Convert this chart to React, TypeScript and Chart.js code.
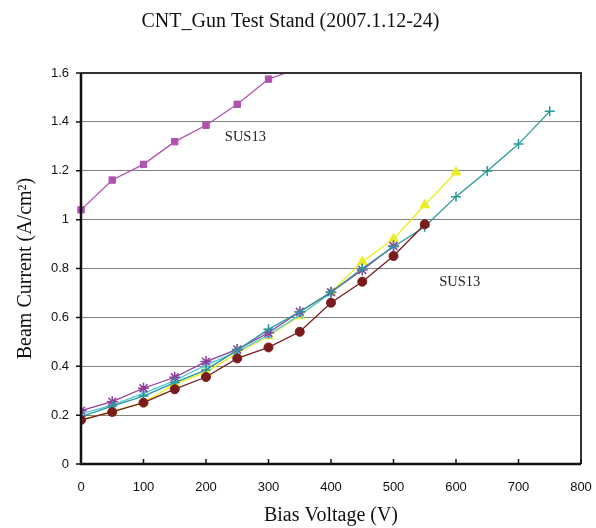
import React, { useEffect, useRef } from "react";
import { Chart, registerables } from "chart.js";

Chart.register(...registerables);

// ---- data ----
const chartTitle = "CNT_Gun Test Stand (2007.1.12-24)";
const xAxisTitle = "Bias Voltage (V)";
const yAxisTitle = "Beam Current (A/cm²)";

const voltages = [0, 50, 100, 150, 200, 250, 300, 350, 400, 450, 500, 550, 600, 650, 700, 750];

const sus13Upper = [1.04, 1.162, 1.226, 1.319, 1.386, 1.472, 1.575, 1.62];
const seriesCircle = [0.18, 0.213, 0.251, 0.306, 0.356, 0.432, 0.477, 0.541, 0.66, 0.746, 0.851, 0.981];
const seriesTriangle = [0.18, 0.214, 0.251, 0.327, 0.376, 0.453, 0.524, 0.606, 0.703, 0.828, 0.921, 1.06, 1.194];
const seriesPlus = [0.194, 0.237, 0.278, 0.333, 0.385, 0.466, 0.551, 0.623, 0.703, 0.8, 0.889, 0.971, 1.094, 1.199, 1.309, 1.443];
const seriesStar = [0.218, 0.255, 0.31, 0.355, 0.419, 0.469, 0.537, 0.623, 0.703, 0.794, 0.892];
const seriesCross = [0.205, 0.241, 0.289, 0.341, 0.405, 0.46, 0.528, 0.61, 0.7];

const xTickValues = [0, 100, 200, 300, 400, 500, 600, 700, 800];
const yTickValues = [0, 0.2, 0.4, 0.6, 0.8, 1, 1.2, 1.4, 1.6];

const noteTexts = ["SUS13", "SUS13"];
const noteX = [263, 606];
const noteY = [1.336, 0.743];

const toPoints = (ys: number[]) => ys.map((y, i) => ({ x: voltages[i], y }));

const SERIF = "'Liberation Serif', 'Times New Roman', serif";
const SANS = "'Liberation Sans', Arial, sans-serif";

const framePlugin = {
  id: "frame",
  afterDatasetsDraw(chart: any) {
    const { ctx, chartArea, scales } = chart;
    const { left, right, top, bottom } = chartArea;
    ctx.save();
    // notes
    ctx.fillStyle = "#222";
    ctx.font = `14.5px ${SERIF}`;
    ctx.textAlign = "center";
    ctx.textBaseline = "middle";
    noteTexts.forEach((t, i) => {
      ctx.fillText(t, scales.x.getPixelForValue(noteX[i]), scales.y.getPixelForValue(noteY[i]));
    });
    // top & right border
    ctx.strokeStyle = "#333";
    ctx.lineWidth = 2;
    ctx.beginPath();
    ctx.moveTo(left, top);
    ctx.lineTo(right, top);
    ctx.lineTo(right, bottom);
    ctx.stroke();
    // left and bottom axes
    ctx.strokeStyle = "#111";
    ctx.lineWidth = 2.5;
    ctx.beginPath();
    ctx.moveTo(left, top);
    ctx.lineTo(left, bottom);
    ctx.lineTo(right, bottom);
    ctx.stroke();
    // ticks
    ctx.lineWidth = 1.5;
    ctx.beginPath();
    xTickValues.forEach((v) => {
      const px = scales.x.getPixelForValue(v);
      ctx.moveTo(px, bottom);
      ctx.lineTo(px, bottom - 5);
    });
    yTickValues.forEach((v) => {
      const py = scales.y.getPixelForValue(v);
      ctx.moveTo(left - 5, py);
      ctx.lineTo(left, py);
    });
    ctx.stroke();
    ctx.restore();
  },
};

const lineDs = (label: string, ys: number[], color: string, style: string, radius: number, extra: any = {}) => ({
  label,
  data: toPoints(ys),
  borderColor: color,
  backgroundColor: color,
  borderWidth: 1.3,
  pointStyle: style,
  pointRadius: radius,
  pointBorderColor: color,
  pointBackgroundColor: color,
  pointBorderWidth: style === "cross" || style === "crossRot" || style === "star" ? 1.5 : 1,
  tension: 0,
  ...extra,
});

export default function App() {
  const canvasRef = useRef<HTMLCanvasElement>(null);

  useEffect(() => {
    if (!canvasRef.current) return;
    const chart = new Chart(canvasRef.current, {
      type: "line",
      data: {
        datasets: [
          lineDs("circle", seriesCircle, "#7b1c1c", "circle", 4.5),
          lineDs("plus", seriesPlus, "#2a9898", "cross", 5),
          lineDs("star", seriesStar, "#8e3c9e", "star", 5.5),
          lineDs("cross", seriesCross, "#4cc8dc", "crossRot", 4.5),
          lineDs("triangle", seriesTriangle, "#ecec22", "triangle", 5.5),
          lineDs("SUS13", sus13Upper, "#b052b0", "rect", 4.5, {
            clip: { left: 10, right: 10, bottom: 10, top: 0 },
          }),
        ],
      },
      options: {
        responsive: false,
        animation: false,
        layout: { padding: { left: 0, right: 15, top: 0, bottom: 0 } },
        plugins: {
          legend: { display: false },
          tooltip: { enabled: false },
          title: {
            display: true,
            text: chartTitle,
            color: "#111",
            font: { family: SERIF, size: 20, weight: "normal" },
            padding: { top: 10, bottom: 39 },
          },
        },
        scales: {
          x: {
            type: "linear",
            min: 0,
            max: 800,
            afterFit: (s: any) => {
              s.height = 64;
              s.paddingLeft = 0;
              s.paddingRight = 0;
            },
            afterBuildTicks: (s: any) => {
              s.ticks = xTickValues.map((v) => ({ value: v }));
            },
            grid: { display: false, drawTicks: false },
            border: { display: false },
            ticks: {
              color: "#111",
              font: { family: SANS, size: 13 },
              padding: 16,
              maxRotation: 0,
              callback: (v: any) => String(v),
            },
            title: {
              display: true,
              text: xAxisTitle,
              color: "#111",
              font: { family: SERIF, size: 20, weight: "normal" },
              padding: { top: 0, bottom: 0 },
            },
          },
          y: {
            type: "linear",
            min: 0,
            max: 1.6,
            afterFit: (s: any) => {
              s.width = 81;
              s.paddingTop = 0;
              s.paddingBottom = 0;
            },
            afterBuildTicks: (s: any) => {
              s.ticks = yTickValues.map((v) => ({ value: v }));
            },
            grid: { display: true, color: "#808080", lineWidth: 1, drawTicks: false },
            border: { display: false },
            ticks: {
              color: "#111",
              font: { family: SANS, size: 13 },
              padding: 12,
              callback: (v: any) => String(Math.round(v * 10) / 10),
            },
            title: {
              display: true,
              text: yAxisTitle,
              color: "#111",
              font: { family: SERIF, size: 20, weight: "normal" },
              padding: { top: 14, bottom: 0 },
            },
          },
        },
      },
      plugins: [framePlugin],
    } as any);
    return () => chart.destroy();
  }, []);

  return (
    <div style={{ position: "fixed", left: 0, top: 0, width: 596, height: 528, background: "#fff" }}>
      <canvas ref={canvasRef} width={596} height={528} />
    </div>
  );
}
